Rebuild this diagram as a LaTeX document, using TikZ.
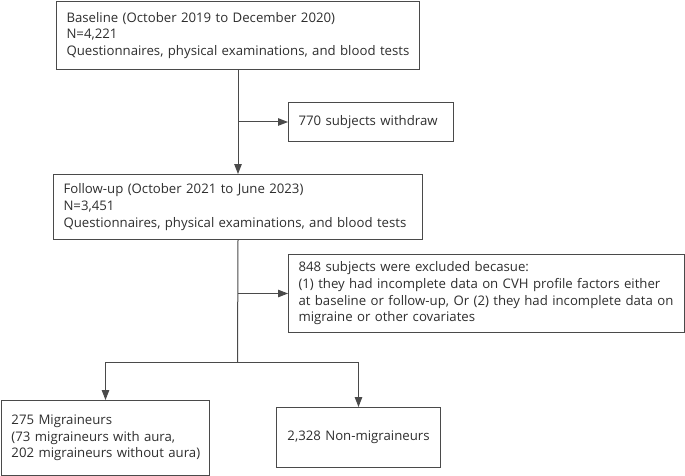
\documentclass[tikz,border=0pt]{standalone}
\usepackage{fontspec}
\setmainfont{Open Sans}
\usetikzlibrary{arrows.meta}
\definecolor{edge}{HTML}{4A4A4A}
\definecolor{txt}{HTML}{2E2E2E}
\begin{document}
\begin{tikzpicture}[x=1pt,y=-1pt,
  box/.style={draw=edge,line width=1pt,rectangle,inner xsep=10pt,inner ysep=0pt,
    align=left,text=txt,font=\fontsize{13.2}{16.7}\selectfont,anchor=north west},
  conn/.style={draw=edge,line width=1pt},
  arr/.style={conn,-{Triangle[length=10pt,width=7.5pt]}}]
\useasboundingbox (0,0) rectangle (685,476);
\node[box,minimum width=363pt,minimum height=68pt,text width=343pt] (base) at (56,1)
 {Baseline (October 2019 to December 2020)\\N=4,221\\Questionnaires, physical examinations, and blood tests};
\node[box,minimum width=165pt,minimum height=39pt,text width=145pt] (withdraw) at (288,102)
 {770 subjects withdraw};
\node[box,minimum width=369pt,minimum height=65pt,text width=349pt] (follow) at (53,174)
 {Follow-up (October 2021 to June 2023)\\N=3,451\\Questionnaires, physical examinations, and blood tests};
\node[box,minimum width=396pt,minimum height=78pt,text width=376pt] (excl) at (288,254)
 {848 subjects were excluded becasue:\\(1) they had incomplete data on CVH profile factors either\\at baseline or follow-up, Or (2) they had incomplete data on\\migraine or other covariates};
\node[box,minimum width=208pt,minimum height=75pt,text width=188pt] (mig) at (1,400)
 {275 Migraineurs\\(73 migraineurs with aura,\\\mbox{202 migraineurs without aura)}};
\node[box,minimum width=164pt,minimum height=60pt,text width=144pt,align=center] (non) at (276,407)
 {2,328 Non-migraineurs};
\coordinate (b1) at (base.south |- withdraw.west);
\coordinate (b2) at (follow.south |- excl.west);
\coordinate (split) at (237.5,362);
\coordinate (sl) at (mig.north |- split);
\coordinate (sr) at (non.north |- split);
\draw[arr] (base.south) -- (follow.north);
\draw[arr] (b1) -- (withdraw.west);
\draw[conn] (follow.south) -- (split);
\draw[arr] (b2) -- (excl.west);
\draw[conn] (sl) -- (sr);
\draw[arr] (sl) -- (mig.north);
\draw[arr] (sr) -- (non.north);
\end{tikzpicture}
\end{document}
